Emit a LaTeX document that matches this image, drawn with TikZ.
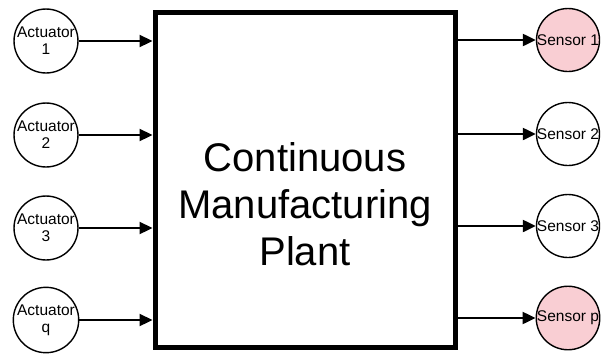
\documentclass[tikz,border=0pt]{standalone}
\usepackage{fontspec}
\setmainfont{Liberation Sans}
\usetikzlibrary{arrows.meta}
\usepackage{xcolor}
\definecolor{sensorpink}{HTML}{F9CED3}
\tikzset{
	actuator/.style={circle,draw=black,line width=1.4pt,minimum size=63pt,inner sep=0pt,align=center,font=\fontsize{15.5}{17}\selectfont},
	sensor/.style={actuator,font=\fontsize{15.5}{17}\selectfont},
	flow/.style={line width=2.3pt,-{Triangle[length=13pt,width=12pt]}}
}

\begin{document}
\begin{tikzpicture}[x=1pt,y=-1pt]
		\useasboundingbox (0,0) rectangle (608,354);
		% plant
		\node[draw=black,line width=5pt,minimum width=300pt,minimum height=335pt,inner sep=0pt] (plant) at (305,179.5) {};
		\node[align=center,font=\fontsize{40}{47}\selectfont] (plantname) at (305,204) {Continuous\\Manufacturing\\Plant};
		%
		\node[actuator] (act1) at (46,41) {Actuator\\1};
		\node[actuator] (act2) at (46,135) {Actuator\\2};
		\node[actuator] (act3) at (46,228) {Actuator\\3};
		\node[actuator] (actq) at (46,320) {Actuator\\q};
		%
		\node[sensor,fill=sensorpink] (sen1) at (568,40) {Sensor 1};
		\node[sensor] (sen2) at (568,134) {Sensor 2};
		\node[sensor] (sen3) at (568,226) {Sensor 3};
		\node[sensor,fill=sensorpink] (senp) at (568,318) {Sensor p};
		%
		\draw[flow] (act1) -- (act1 -| plant.west);
		\draw[flow] (act2) -- (act2 -| plant.west);
		\draw[flow] (act3) -- (act3 -| plant.west);
		\draw[flow] (actq) -- (actq -| plant.west);
		%
		\draw[flow] (sen1 -| plant.east) -- (sen1);
		\draw[flow] (sen2 -| plant.east) -- (sen2);
		\draw[flow] (sen3 -| plant.east) -- (sen3);
		\draw[flow] (senp -| plant.east) -- (senp);
	\end{tikzpicture}
\end{document}
